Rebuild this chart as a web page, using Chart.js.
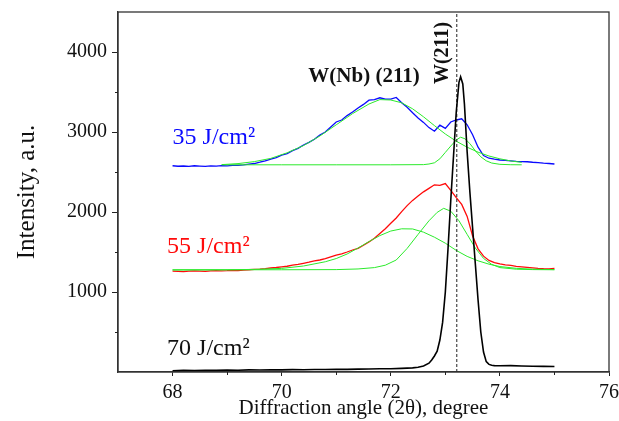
<!DOCTYPE html>
<html lang="en">
<head>
<meta charset="UTF-8" />
<title>W(211) diffraction peaks</title>
<style>
    body { margin: 0; background: #fff; }
    #wrap { width: 619px; height: 421px; }
</style>
</head>
<body>
<div id="wrap"><canvas id="xrd" width="619" height="421"></canvas></div>

<script src="https://cdn.jsdelivr.net/npm/chart.js@4"></script>
<script>
    // 2θ grid (degree) of the measured scans
    const angle = [68.0, 68.1, 68.2, 68.3, 68.4, 68.5, 68.6, 68.7, 68.8, 68.9,
        69.0, 69.1, 69.2, 69.3, 69.4, 69.5, 69.6, 69.7, 69.8, 69.9,
        70.0, 70.1, 70.2, 70.3, 70.4, 70.5, 70.6, 70.7, 70.8, 70.9,
        71.0, 71.1, 71.2, 71.3, 71.4, 71.5, 71.6, 71.7, 71.8, 71.9,
        72.0, 72.1, 72.2, 72.3, 72.4, 72.5, 72.6, 72.7, 72.8, 72.9,
        73.0, 73.1, 73.2, 73.3, 73.4, 73.5, 73.6, 73.7, 73.8, 73.9,
        74.0, 74.1, 74.2, 74.3, 74.4, 74.5, 74.6, 74.7, 74.8, 74.9, 75.0];

    // 35 J/cm2 (blue)
    const i35 = [2578, 2572, 2575, 2570, 2578, 2574, 2571, 2577, 2573, 2579,
        2576, 2582, 2584, 2590, 2598, 2606, 2622, 2640, 2662, 2680,
        2712, 2730, 2768, 2795, 2838, 2870, 2910, 2962, 3000, 3062,
        3125, 3150, 3205, 3250, 3300, 3345, 3398, 3405, 3428, 3410,
        3412, 3432, 3365, 3310, 3240, 3175, 3120, 3055, 3010, 3085,
        3045, 3125, 3150, 3165, 3090, 2965, 2810, 2705, 2672, 2660,
        2650, 2645, 2640, 2632, 2630, 2628, 2622, 2618, 2610, 2606, 2600];

    // 55 J/cm2 (red)
    const i55 = [1262, 1258, 1255, 1260, 1264, 1262, 1258, 1263, 1268, 1264,
        1266, 1270, 1268, 1274, 1278, 1282, 1286, 1292, 1300, 1306,
        1314, 1322, 1335, 1344, 1358, 1372, 1388, 1400, 1418, 1440,
        1462, 1478, 1500, 1525, 1545, 1585, 1626, 1672, 1732, 1790,
        1860, 1925, 2005, 2080, 2145, 2200, 2252, 2295, 2340, 2332,
        2356, 2270, 2180, 2095, 1945, 1700, 1540, 1448, 1395, 1368,
        1352, 1340, 1332, 1320, 1314, 1308, 1302, 1296, 1292, 1290, 1296];

    // 70 J/cm2 (black), denser around the W(211) peak
    const angle70 = [68.0, 68.2, 68.4, 68.6, 68.8, 69.0, 69.2, 69.4, 69.6, 69.8,
        70.0, 70.2, 70.4, 70.6, 70.8, 71.0, 71.2, 71.4, 71.6, 71.8,
        72.0, 72.2, 72.4, 72.5, 72.6, 72.7, 72.75, 72.8, 72.85, 72.9,
        72.95, 73.0, 73.05, 73.1, 73.15, 73.2, 73.25, 73.28, 73.32, 73.35,
        73.4, 73.45, 73.5, 73.55, 73.6, 73.65, 73.7, 73.75, 73.8, 73.85,
        73.9, 74.0, 74.2, 74.4, 74.6, 74.8, 75.0];
    const i70 = [15, 20, 18, 22, 20, 24, 22, 26, 25, 28,
        27, 30, 29, 32, 31, 34, 33, 36, 37, 40,
        40, 45, 52, 60, 75, 110, 150, 200, 260, 400,
        620, 1000, 1550, 2150, 2700, 3250, 3620, 3690, 3600, 3350,
        2750, 2250, 1800, 1350, 900, 500, 250, 130, 95, 85,
        80, 78, 80, 75, 72, 70, 68];

    // fitted components (green)
    const fit35aX = [68.9, 69.2, 69.5, 69.8, 70.1, 70.4, 70.7, 71.0, 71.3, 71.6, 71.8, 72.0,
        72.2, 72.4, 72.6, 72.8, 73.0, 73.2, 73.4, 73.6, 73.8, 74.0, 74.2, 74.4];
    const fit35aY = [2592, 2605, 2630, 2670, 2740, 2830, 2950, 3090, 3230, 3350, 3405, 3400,
        3365, 3290, 3190, 3080, 2975, 2885, 2810, 2748, 2700, 2665, 2638, 2620];
    const fit35bX = [68.9, 70.0, 71.0, 72.0, 72.6, 72.7, 72.8, 72.9, 73.0, 73.1, 73.2,
        73.28, 73.36, 73.45, 73.55, 73.65, 73.75, 73.85, 74.0, 74.2, 74.4];
    const fit35bY = [2590, 2590, 2590, 2590, 2592, 2600, 2615, 2665, 2745, 2825, 2900,
        2935, 2915, 2855, 2765, 2690, 2640, 2612, 2596, 2591, 2590];
    const fit55aX = [68.0, 69.0, 69.5, 70.0, 70.4, 70.8, 71.0, 71.2, 71.4, 71.6, 71.8, 72.0,
        72.2, 72.4, 72.6, 72.8, 73.0, 73.2, 73.4, 73.6, 73.8, 74.0, 74.3, 74.6, 75.0];
    const fit55aY = [1275, 1277, 1283, 1295, 1325, 1378, 1418, 1475, 1550, 1630, 1705, 1762,
        1790, 1788, 1748, 1685, 1610, 1520, 1445, 1390, 1348, 1318, 1296, 1285, 1280];
    const fit55bX = [68.0, 70.0, 71.0, 71.4, 71.7, 71.9, 72.1, 72.3, 72.5, 72.7, 72.85,
        72.97, 73.1, 73.25, 73.4, 73.55, 73.7, 73.85, 74.0, 74.3, 74.6, 75.0];
    const fit55bY = [1278, 1278, 1280, 1288, 1305, 1335, 1400, 1545, 1720, 1890, 1995,
        2046, 2010, 1890, 1720, 1550, 1420, 1345, 1305, 1285, 1280, 1278];

    // W(211) reference position
    const refX = [73.21, 73.21];
    const refY = [0, 4500];

    const xTicks = [68, 70, 72, 74, 76];
    const xMinor = [69, 71, 73, 75];
    const yTicks = [1000, 2000, 3000, 4000];
    const yMinor = [500, 1500, 2500, 3500];

    const BLUE = '#0a0aff';
    const RED = '#ff0a0a';
    const GREEN = '#2bea2b';
    const SERIF = "'Liberation Serif', 'Times New Roman', serif";

    const pts = (xs, ys) => xs.map((x, i) => ({ x: x, y: ys[i] }));

    Chart.defaults.font.family = SERIF;
    Chart.defaults.color = '#111';

    // text labels placed in data coordinates
    const notes = [
        { text: '35 J/cm\u00b2', x: 68.0, y: 2850, color: BLUE, font: '24px ' + SERIF, align: 'left' },
        { text: '55 J/cm\u00b2', x: 67.9, y: 1491, color: RED, font: '24px ' + SERIF, align: 'left' },
        { text: '70 J/cm\u00b2', x: 67.9, y: 212, color: '#111', font: '24px ' + SERIF, align: 'left' },
        { text: 'W(Nb) (211)', x: 71.51, y: 3625, color: '#111', font: 'bold 21px ' + SERIF, align: 'center' },
        { text: 'W(211)', x: 73.04, y: 3988, color: '#111', font: 'bold 20px ' + SERIF, align: 'center', rotate: true }
    ];

    const extras = {
        id: 'extras',
        afterDatasetsDraw(chart) {
            const { ctx, chartArea: a, scales: { x, y } } = chart;
            ctx.save();
            notes.forEach(n => {
                ctx.font = n.font;
                ctx.fillStyle = n.color;
                ctx.textAlign = n.align;
                ctx.textBaseline = 'alphabetic';
                const px = x.getPixelForValue(n.x);
                const py = y.getPixelForValue(n.y);
                if (n.rotate) {
                    ctx.save();
                    ctx.translate(px, py);
                    ctx.rotate(-Math.PI / 2);
                    ctx.fillText(n.text, 0, 0);
                    ctx.restore();
                } else {
                    ctx.fillText(n.text, px, py);
                }
            });
            ctx.restore();
        },
        afterDraw(chart) {
            const { ctx, chartArea: a, scales: { x, y } } = chart;
            ctx.save();
            ctx.strokeStyle = '#333';
            ctx.lineWidth = 1.3;
            ctx.strokeRect(a.left, a.top, a.right - a.left, a.bottom - a.top);
            // minor ticks
            ctx.lineWidth = 1;
            ctx.strokeStyle = '#222';
            ctx.beginPath();
            xMinor.forEach(v => {
                const px = Math.round(x.getPixelForValue(v)) + 0.5;
                ctx.moveTo(px, a.bottom);
                ctx.lineTo(px, a.bottom + 3);
            });
            yMinor.forEach(v => {
                const py = Math.round(y.getPixelForValue(v)) + 0.5;
                ctx.moveTo(a.left - 3, py);
                ctx.lineTo(a.left, py);
            });
            ctx.stroke();
            ctx.restore();
        }
    };

    new Chart(document.getElementById('xrd'), {
        type: 'line',
        data: {
            datasets: [
                { label: '70 J/cm2', data: pts(angle70, i70), borderColor: '#000', borderWidth: 1.6, order: 0 },
                { label: 'W(211)', data: pts(refX, refY), borderColor: '#222', borderWidth: 1, borderDash: [3, 2], order: 0 },
                { label: 'fit 35 a', data: pts(fit35aX, fit35aY), borderColor: GREEN, borderWidth: 1, order: 1 },
                { label: 'fit 35 b', data: pts(fit35bX, fit35bY), borderColor: GREEN, borderWidth: 1, order: 1 },
                { label: 'fit 55 a', data: pts(fit55aX, fit55aY), borderColor: GREEN, borderWidth: 1, order: 1 },
                { label: 'fit 55 b', data: pts(fit55bX, fit55bY), borderColor: GREEN, borderWidth: 1, order: 1 },
                { label: '35 J/cm2', data: pts(angle, i35), borderColor: BLUE, borderWidth: 1.3, order: 2 },
                { label: '55 J/cm2', data: pts(angle, i55), borderColor: RED, borderWidth: 1.3, order: 2 }
            ]
        },
        options: {
            responsive: false,
            animation: false,
            layout: { padding: { top: 12, right: 10, bottom: 0, left: 0 } },
            elements: { point: { radius: 0 }, line: { tension: 0 } },
            plugins: { legend: { display: false }, tooltip: { enabled: false } },
            scales: {
                x: {
                    type: 'linear',
                    min: 67,
                    max: 76,
                    afterBuildTicks: s => { s.ticks = xTicks.map(v => ({ value: v })); },
                    afterFit: s => { s.height = 49; s.paddingLeft = 0; s.paddingRight = 0; },
                    ticks: { font: { size: 20 }, padding: 5, maxRotation: 0, autoSkip: false, callback: v => String(v) },
                    grid: { drawOnChartArea: false, tickLength: 4, tickColor: '#222' },
                    border: { color: '#333', width: 1.3 },
                    title: {
                        display: true,
                        text: 'Diffraction angle (2\u03b8), degree',
                        font: { size: 21 },
                        padding: { top: 0, bottom: 0 }
                    }
                },
                y: {
                    min: 0,
                    max: 4500,
                    afterBuildTicks: s => { s.ticks = yTicks.map(v => ({ value: v })); },
                    afterFit: s => { s.width = 118; s.paddingTop = 0; s.paddingBottom = 0; },
                    ticks: { font: { size: 20 }, padding: 5, callback: v => String(v) },
                    grid: { drawOnChartArea: false, tickLength: 6, tickColor: '#222' },
                    border: { color: '#333', width: 1.3 },
                    title: {
                        display: true,
                        text: 'Intensity, a.u.',
                        font: { size: 25 },
                        padding: { top: 12, bottom: 0 }
                    }
                }
            }
        },
        plugins: [extras]
    });
</script>
</body>
</html>
